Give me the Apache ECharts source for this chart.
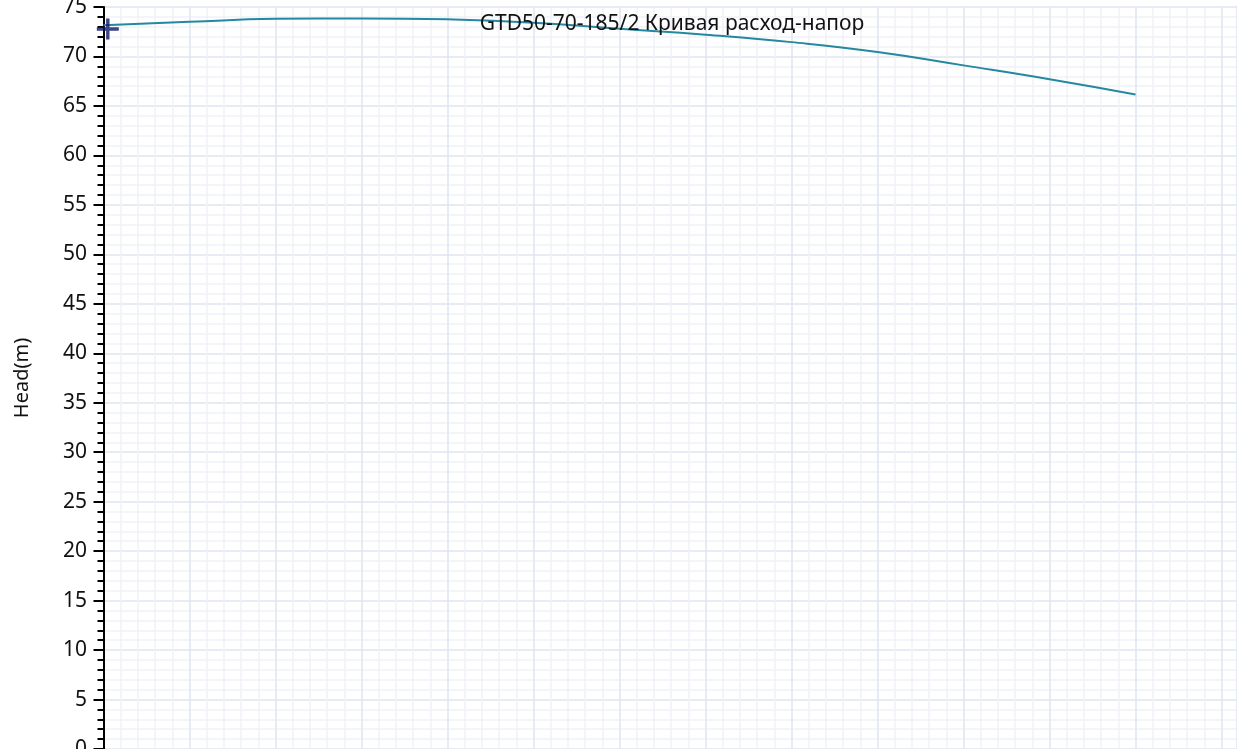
<!DOCTYPE html>
<html>
<head>
<meta charset="utf-8">
<script src="https://cdn.jsdelivr.net/npm/echarts@6/dist/echarts.min.js"></script>
<style>
html,body{margin:0;padding:0;background:#fff;}
#chart{width:1237px;height:749px;}
</style>
</head>
<body>
<div id="chart"></div>
<script>
var titleText = 'GTD50-70-185/2 Кривая расход-напор';
var yAxisName = 'Head(m)';
var flows = [0, 1, 2, 3, 4, 5, 6, 7, 8, 9, 10, 11, 12];
var heads = [73.15, 73.5, 73.8, 73.85, 73.75, 73.42, 72.8, 72.2, 71.45, 70.45, 69.1, 67.7, 66.16];
var markerPoint = [0.05, 72.77];

var curveData = flows.map(function (f, i) { return [f, heads[i]]; });

var FONT = 'Noto Sans';
var chart = echarts.init(document.getElementById('chart'));
chart.setOption({
  animation: false,
  title: {
    text: titleText,
    left: 667,
    textAlign: 'center',
    top: 9,
    textStyle: { fontFamily: FONT, fontSize: 21, fontWeight: 'normal', color: '#111' }
  },
  grid: { left: 103.5, right: 0, top: 7, bottom: 0, containLabel: false, outerBoundsMode: 'none' },
  xAxis: {
    type: 'value', min: 0, max: 13.18, interval: 1,
    axisLine: { show: false }, axisTick: { show: false }, axisLabel: { show: false },
    splitLine: { show: true, lineStyle: { color: '#dfe4ef', width: 1.5 } },
    minorTick: { show: false, splitNumber: 5 },
    minorSplitLine: { show: true, lineStyle: { color: '#eff2f9', width: 1.5 } }
  },
  yAxis: {
    type: 'value', min: 0, max: 75, interval: 5,
    name: yAxisName, nameLocation: 'middle', nameGap: 71, nameRotate: 90,
    nameTextStyle: { fontFamily: FONT, fontSize: 20, color: '#111' },
    axisLine: { show: true, lineStyle: { color: '#000', width: 2 } },
    axisTick: { show: true, inside: false, length: 10, lineStyle: { color: '#000', width: 2 } },
    minorTick: { show: true, splitNumber: 5, length: 6, lineStyle: { color: '#000', width: 2 } },
    axisLabel: { margin: 16.5, fontFamily: FONT, fontSize: 21, color: '#111' },
    splitLine: { show: true, lineStyle: { color: '#dfe4ef', width: 1.5 } },
    minorSplitLine: { show: true, lineStyle: { color: '#eff2f9', width: 1.5 } }
  },
  series: [
    {
      type: 'line', data: curveData, smooth: true, showSymbol: false,
      lineStyle: { color: '#2388a0', width: 2 }, z: 3
    },
    {
      type: 'scatter', data: [markerPoint],
      symbol: 'path://M0,8.8 L22,8.8 L22,12.2 L0,12.2 Z M9.3,0 L12.7,0 L12.7,21 L9.3,21 Z',
      symbolSize: [22, 21],
      itemStyle: { color: '#0c1668' }, z: 4
    }
  ]
});
</script>
</body>
</html>
